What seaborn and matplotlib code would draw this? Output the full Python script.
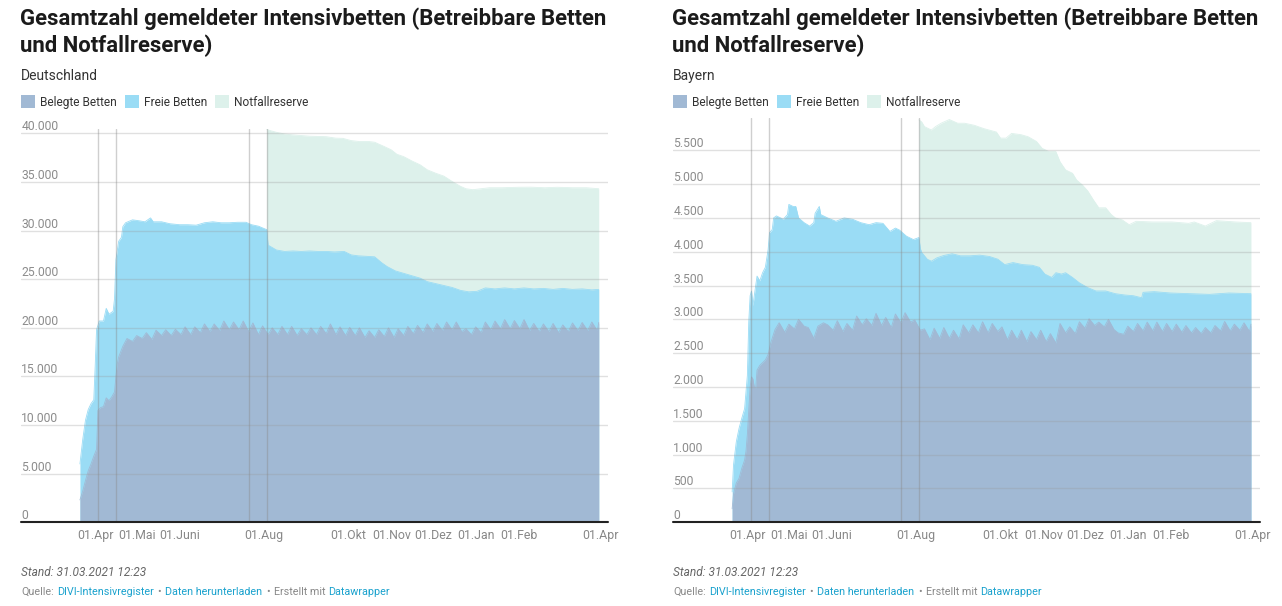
import numpy as np
import pandas as pd
import matplotlib
matplotlib.use("Agg")
import matplotlib.pyplot as plt
import matplotlib.transforms as mtransforms
from matplotlib.patches import Rectangle
import seaborn as sns

sns.set_theme(style="white")
plt.rcParams["font.family"] = ["Roboto", "DejaVu Sans"]

# ------------------------------------------------------------------ data
TUESDAYS = pd.date_range("2020-04-21", "2021-03-30", freq="W-TUE")
FRIDAYS = pd.date_range("2020-04-24", "2021-03-26", freq="W-FRI")
LAST_DAY = "2021-03-31"

# ---- Deutschland
de_belegt_early_dates = ["2020-03-21", "2020-03-23", "2020-03-25", "2020-03-27", "2020-03-29",
                         "2020-03-31", "2020-04-02", "2020-04-03", "2020-04-05", "2020-04-07",
                         "2020-04-09", "2020-04-11", "2020-04-13", "2020-04-15", "2020-04-16",
                         "2020-04-17", "2020-04-18"]
de_belegt_early = [2300, 3200, 4300, 5300, 6000, 6800, 7500, 11500, 11800, 11900,
                   12800, 12500, 12900, 13400, 15000, 16300, 17000]
de_belegt_tue = [18100, 18600, 18900, 18800, 19200, 19200, 19300, 19300, 19500, 19600,
                 19700, 19800, 19800, 19600, 19300, 19300, 19300, 19300, 19200, 19300,
                 19300, 19400, 19300, 19200, 19200, 19000, 19000, 19100, 19000, 19200,
                 19400, 19500, 19600, 19700, 19800, 19600, 19300, 19500, 19800, 19900,
                 19900, 19900, 19700, 19600, 19600, 19500, 19600, 19700, 19700, 19700]
de_belegt_fri = [18900, 19200, 19500, 19750, 19800, 19850, 20100, 20100, 20400, 20400,
                 20700, 20600, 20700, 20500, 20200, 20000, 20150, 20150, 19900, 20000,
                 20150, 20400, 20100, 20050, 20000, 19700, 19800, 20000, 19900, 20150,
                 20250, 20400, 20450, 20600, 20600, 19900, 20100, 20600, 20700, 20850,
                 20750, 20850, 20450, 20400, 20450, 20300, 20500, 20550, 20600]
de_belegt_last = 20550

de_betreibbar_dates = ["2020-03-21", "2020-03-23", "2020-03-25", "2020-03-27", "2020-03-29",
                       "2020-03-31", "2020-04-01", "2020-04-02", "2020-04-04", "2020-04-07",
                       "2020-04-09", "2020-04-11", "2020-04-14", "2020-04-15", "2020-04-16",
                       "2020-04-18", "2020-04-20", "2020-04-21", "2020-04-23", "2020-04-28",
                       "2020-05-03", "2020-05-07", "2020-05-11", "2020-05-13", "2020-05-19",
                       "2020-05-25", "2020-06-01", "2020-06-07", "2020-06-13", "2020-06-19",
                       "2020-06-25", "2020-07-01", "2020-07-07", "2020-07-13", "2020-07-19",
                       "2020-07-23", "2020-07-28", "2020-08-02", "2020-08-03", "2020-08-04",
                       "2020-08-10", "2020-08-16", "2020-08-22", "2020-08-28", "2020-09-03",
                       "2020-09-09", "2020-09-15", "2020-09-21", "2020-09-28", "2020-10-03",
                       "2020-10-08", "2020-10-14", "2020-10-20", "2020-10-25", "2020-10-29",
                       "2020-11-04", "2020-11-10", "2020-11-16", "2020-11-22", "2020-11-27",
                       "2020-12-03", "2020-12-09", "2020-12-15", "2020-12-21", "2020-12-27",
                       "2021-01-02", "2021-01-08", "2021-01-15", "2021-01-22", "2021-01-29",
                       "2021-02-05", "2021-02-12", "2021-02-19", "2021-02-26", "2021-03-05",
                       "2021-03-12", "2021-03-19", "2021-03-26", "2021-03-31"]
de_betreibbar = [6000, 8500, 10500, 11600, 12200, 12600, 16000, 19800, 20700, 20700,
                 22000, 21400, 21700, 23000, 27000, 28900, 29300, 30400, 30800, 31100,
                 31000, 30900, 31300, 30900, 30900, 30700, 30600, 30600, 30550, 30800,
                 30900, 30800, 30800, 30850, 30850, 30600, 30450, 30150, 30100, 28500,
                 28000, 27850, 27900, 27850, 27900, 27850, 27850, 27800, 27850, 27500,
                 27400, 27350, 27300, 26700, 26300, 25850, 25600, 25350, 25100, 24750,
                 24550, 24350, 24150, 23850, 23700, 23750, 24100, 24000, 24100, 24000,
                 24100, 24000, 24050, 23950, 24050, 23950, 24000, 23900, 23950]

de_mit_reserve_dates = ["2020-08-03", "2020-08-05", "2020-08-10", "2020-08-16", "2020-08-22",
                        "2020-09-03", "2020-09-15", "2020-09-22", "2020-09-27", "2020-10-03",
                        "2020-10-09", "2020-10-16", "2020-10-20", "2020-10-26", "2020-11-01",
                        "2020-11-05", "2020-11-10", "2020-11-16", "2020-11-22", "2020-11-27",
                        "2020-12-03", "2020-12-09", "2020-12-15", "2020-12-21", "2020-12-25",
                        "2020-12-30", "2021-01-05", "2021-01-11", "2021-01-20", "2021-02-01",
                        "2021-02-10", "2021-02-20", "2021-03-01", "2021-03-12", "2021-03-22",
                        "2021-03-31"]
de_mit_reserve = [40400, 40300, 40100, 39930, 39830, 39700, 39650, 39500, 39480, 39250,
                  39150, 39150, 39080, 38700, 38300, 37850, 37600, 37150, 36750, 36250,
                  35900, 35600, 35050, 34550, 34300, 34200, 34300, 34400, 34400, 34450,
                  34460, 34400, 34450, 34400, 34400, 34300]

# ---- Bayern
by_belegt_early_dates = ["2020-03-21", "2020-03-22", "2020-03-24", "2020-03-26", "2020-03-28",
                         "2020-03-30", "2020-03-31", "2020-04-01", "2020-04-02", "2020-04-03",
                         "2020-04-04", "2020-04-05", "2020-04-06", "2020-04-07", "2020-04-08",
                         "2020-04-10", "2020-04-12", "2020-04-14", "2020-04-16", "2020-04-18"]
by_belegt_early = [200, 420, 580, 650, 800, 920, 1050, 1300, 1650, 2000,
                   2150, 2120, 2000, 1980, 2250, 2320, 2360, 2400, 2480, 2660]
by_belegt_tue = [2850, 2810, 2860, 2900, 2720, 2950, 2840, 2820, 2840, 2920,
                 2910, 2910, 2880, 2950, 2960, 2840, 2700, 2720, 2720, 2710,
                 2800, 2800, 2800, 2820, 2700, 2700, 2670, 2700, 2670, 2650,
                 2800, 2790, 2870, 2910, 2890, 2850, 2780, 2820, 2830, 2830,
                 2820, 2820, 2810, 2800, 2790, 2800, 2830, 2830, 2840, 2820]
by_belegt_fri = [2950, 2930, 3000, 2880, 2900, 2920, 2980, 2940, 3050, 3010,
                 3090, 3030, 3080, 3100, 2990, 2860, 2870, 2880, 2840, 2920,
                 2920, 2965, 2940, 2890, 2840, 2840, 2820, 2840, 2790, 2940,
                 2890, 2965, 3010, 2960, 3000, 2800, 2900, 2940, 2960, 2960,
                 2940, 2930, 2910, 2880, 2880, 2910, 2970, 2930, 2950]
by_belegt_last = 2930

by_betreibbar_dates = ["2020-03-21", "2020-03-22", "2020-03-24", "2020-03-26", "2020-03-28",
                       "2020-03-30", "2020-04-01", "2020-04-02", "2020-04-03", "2020-04-04",
                       "2020-04-05", "2020-04-06", "2020-04-08", "2020-04-10", "2020-04-12",
                       "2020-04-14", "2020-04-16", "2020-04-17", "2020-04-19", "2020-04-20",
                       "2020-04-22", "2020-04-25", "2020-04-27", "2020-04-30", "2020-05-01",
                       "2020-05-04", "2020-05-06", "2020-05-08", "2020-05-12", "2020-05-16",
                       "2020-05-19", "2020-05-20", "2020-05-23", "2020-05-24", "2020-05-29",
                       "2020-06-04", "2020-06-10", "2020-06-16", "2020-06-22", "2020-06-28",
                       "2020-07-03", "2020-07-08", "2020-07-13", "2020-07-17", "2020-07-20",
                       "2020-07-25", "2020-07-30", "2020-08-03", "2020-08-04", "2020-08-05",
                       "2020-08-09", "2020-08-12", "2020-08-16", "2020-08-21", "2020-08-27",
                       "2020-09-02", "2020-09-09", "2020-09-16", "2020-09-23", "2020-09-29",
                       "2020-10-04", "2020-10-10", "2020-10-17", "2020-10-24", "2020-10-29",
                       "2020-11-02", "2020-11-07", "2020-11-10", "2020-11-14", "2020-11-17",
                       "2020-11-22", "2020-11-27", "2020-12-03", "2020-12-09", "2020-12-16",
                       "2020-12-23", "2020-12-30", "2021-01-05", "2021-01-11", "2021-01-12",
                       "2021-01-20", "2021-02-01", "2021-02-15", "2021-03-01", "2021-03-15",
                       "2021-03-31"]
by_betreibbar = [450, 850, 1190, 1390, 1540, 1680, 2170, 2960, 3350, 3420,
                 3200, 3350, 3640, 3570, 3690, 3770, 4030, 4280, 4330, 4500,
                 4530, 4500, 4480, 4550, 4700, 4670, 4670, 4500, 4430, 4380,
                 4430, 4570, 4670, 4550, 4500, 4450, 4500, 4480, 4430, 4400,
                 4430, 4420, 4300, 4350, 4320, 4230, 4180, 4210, 4050, 3990,
                 3890, 3860, 3910, 3945, 3970, 3940, 3940, 3950, 3930, 3890,
                 3810, 3840, 3810, 3800, 3770, 3670, 3620, 3690, 3670, 3690,
                 3620, 3540, 3470, 3420, 3420, 3380, 3360, 3350, 3320, 3400,
                 3410, 3390, 3380, 3370, 3390, 3380]

by_mit_reserve_dates = ["2020-08-03", "2020-08-05", "2020-08-07", "2020-08-12", "2020-08-15",
                        "2020-08-19", "2020-08-25", "2020-08-31", "2020-09-05", "2020-09-12",
                        "2020-09-19", "2020-09-28", "2020-10-01", "2020-10-05", "2020-10-09",
                        "2020-10-16", "2020-10-21", "2020-10-27", "2020-10-31", "2020-11-05",
                        "2020-11-10", "2020-11-13", "2020-11-17", "2020-11-22", "2020-11-25",
                        "2020-11-29", "2020-12-03", "2020-12-07", "2020-12-11", "2020-12-16",
                        "2020-12-20", "2020-12-23", "2020-12-28", "2021-01-02", "2021-01-07",
                        "2021-01-19", "2021-02-02", "2021-02-14", "2021-02-18", "2021-02-26",
                        "2021-03-06", "2021-03-20", "2021-03-31"]
by_mit_reserve = [5950, 5920, 5850, 5800, 5850, 5900, 5955, 5900, 5900, 5870,
                  5820, 5770, 5680, 5680, 5750, 5730, 5700, 5630, 5530, 5480,
                  5480, 5330, 5210, 5160, 5060, 4990, 4900, 4770, 4650, 4650,
                  4550, 4500, 4470, 4400, 4450, 4440, 4440, 4420, 4440, 4380,
                  4460, 4440, 4430]

# axis texts
tick_dates = ["2020-04-01", "2020-05-01", "2020-06-01", "2020-08-01", "2020-10-01",
              "2020-11-01", "2020-12-01", "2021-01-01", "2021-02-01", "2021-04-01"]
tick_labels = ["01.Apr", "01.Mai", "01.Juni", "01.Aug", "01.Okt",
               "01.Nov", "01.Dez", "01.Jan", "01.Feb", "01.Apr"]
marker_dates = ["2020-04-03 08:00", "2020-04-16 08:00", "2020-07-21", "2020-08-03"]
de_yticks = [0, 5000, 10000, 15000, 20000, 25000, 30000, 35000, 40000]
by_yticks = [0, 500, 1000, 1500, 2000, 2500, 3000, 3500, 4000, 4500, 5000, 5500]

series_names = ["Belegte Betten", "Freie Betten", "Notfallreserve"]
COL_BELEGT = "#a1b9d4"
COL_FREI = "#9adcf5"
COL_RESERVE = "#ddf1eb"
series_colors = [COL_BELEGT, COL_FREI, COL_RESERVE]

TITLE_LINES = ["Gesamtzahl gemeldeter Intensivbetten (Betreibbare Betten", "und Notfallreserve)"]
regions = ["Deutschland", "Bayern"]
LINK = "#18a1cd"


def build_belegt(early_dates, early_vals, tue, fri, last):
    assert len(tue) == len(TUESDAYS) and len(fri) == len(FRIDAYS)
    s = pd.concat([
        pd.Series(early_vals, index=pd.to_datetime(early_dates)),
        pd.Series(tue, index=TUESDAYS),
        pd.Series(fri, index=FRIDAYS),
        pd.Series([last], index=pd.to_datetime([LAST_DAY])),
    ]).sort_index()
    return s


def ser(dates, vals):
    assert len(dates) == len(vals)
    return pd.Series(vals, index=pd.to_datetime(dates))


data = [
    dict(belegt=build_belegt(de_belegt_early_dates, de_belegt_early, de_belegt_tue, de_belegt_fri, de_belegt_last),
         betreibbar=ser(de_betreibbar_dates, de_betreibbar),
         reserve=ser(de_mit_reserve_dates, de_mit_reserve),
         yticks=de_yticks, ytop=40410),
    dict(belegt=build_belegt(by_belegt_early_dates, by_belegt_early, by_belegt_tue, by_belegt_fri, by_belegt_last),
         betreibbar=ser(by_betreibbar_dates, by_betreibbar),
         reserve=ser(by_mit_reserve_dates, by_mit_reserve),
         yticks=by_yticks, ytop=5973),
]

# ------------------------------------------------------------------ figure
W, H = 1282, 606
fig = plt.figure(figsize=(W / 100, H / 100), dpi=100)
fig.patch.set_facecolor("white")


def fx(x):
    return x / W


def fy(y):
    return 1 - y / H


panel_x0 = [21, 673]
axes_px = [(21.2, 129.3, 587.0, 522.3), (673.4, 118.3, 587.0, 522.3)]
XLIM = (pd.Timestamp("2020-02-07 13:00"), pd.Timestamp("2021-04-06 20:00"))

for i, d in enumerate(data):
    x0 = panel_x0[i]
    # header
    for k, line in enumerate(TITLE_LINES):
        fig.text(fx(x0 - 1), fy(25.5 + 27 * k), line, fontsize=15.9, fontweight="bold",
                 color="#1b1b1b", ha="left", va="baseline")
    fig.text(fx(x0), fy(80), regions[i], fontsize=10.0, color="#333333", ha="left", va="baseline")
    # legend
    lx = [x0, x0 + 104, x0 + 194]
    for j in range(3):
        fig.patches.append(Rectangle((fx(lx[j]), fy(108)), 14 / W, 13 / H,
                                     transform=fig.transFigure, facecolor=series_colors[j],
                                     edgecolor="none"))
        fig.text(fx(lx[j] + 19), fy(106), series_names[j], fontsize=8.6, color="#333333",
                 ha="left", va="baseline")

    ax_l, ax_top, ax_w, ax_bot = axes_px[i]
    ax = fig.add_axes([fx(ax_l), fy(ax_bot), ax_w / W, (ax_bot - ax_top) / H])
    ax.set_facecolor("white")

    b, t, r = d["belegt"], d["betreibbar"], d["reserve"]
    ax.fill_between(r.index, 0, r.values, color=COL_RESERVE, lw=0, zorder=1)
    sns.lineplot(x=r.index, y=r.values, ax=ax, color=COL_RESERVE, linewidth=0.6, zorder=1.1)
    ax.fill_between(t.index, 0, t.values, color=COL_FREI, lw=0, zorder=2)
    sns.lineplot(x=t.index, y=t.values, ax=ax, color=COL_FREI, linewidth=0.6, zorder=2.1)
    ax.fill_between(b.index, 0, b.values, color=COL_BELEGT, lw=0, zorder=3)
    sns.lineplot(x=b.index, y=b.values, ax=ax, color=COL_BELEGT, linewidth=0.6, zorder=3.1)

    ax.set_xlim(*XLIM)
    ax.set_ylim(0, d["ytop"])
    ax.set_xlabel("")
    ax.set_ylabel("")
    for sp in ax.spines.values():
        sp.set_visible(False)

    # gridlines + inside labels
    trans = mtransforms.blended_transform_factory(ax.transAxes, ax.transData)
    ltrans = mtransforms.offset_copy(trans, fig=fig, x=0, y=3, units="dots")
    for v in d["yticks"]:
        if v > 0:
            ax.axhline(v, color="#999999", alpha=0.3, lw=1, zorder=4)
        ax.text(0, v, f"{v:,}".replace(",", "."), transform=ltrans, fontsize=8.7,
                color="#8c8c8c", ha="left", va="baseline", zorder=7)
    ax.set_yticks([])

    for m in marker_dates:
        ax.axvline(pd.Timestamp(m), color="#888888", alpha=0.4, lw=1, zorder=5)
    ax.axhline(0, color="#222222", lw=1.5, zorder=6, clip_on=False)

    ax.set_xticks(pd.to_datetime(tick_dates))
    ax.set_xticklabels(tick_labels)
    ax.tick_params(axis="x", length=0, pad=4.5, labelsize=8.9, labelcolor="#888888")

    # footer
    fig.text(fx(x0), fy(576), "Stand: 31.03.2021 12:23", fontsize=8.6, style="italic",
             color="#666666", ha="left", va="baseline")
    renderer = fig.canvas.get_renderer()
    parts = [("Quelle:", "#888888", 3), ("DIVI-Intensivregister", LINK, 4), ("\u2022", "#888888", 4),
             ("Daten herunterladen", LINK, 4), ("\u2022", "#888888", 4),
             ("Erstellt mit", "#888888", 3), ("Datawrapper", LINK, 0)]
    cx = x0
    for s, c, gap in parts:
        tx = fig.text(fx(cx), fy(595), s, fontsize=7.75, color=c, ha="left", va="baseline")
        bb = tx.get_window_extent(renderer)
        cx += bb.width + gap

fig.savefig("out.png", dpi=100, facecolor="white")
